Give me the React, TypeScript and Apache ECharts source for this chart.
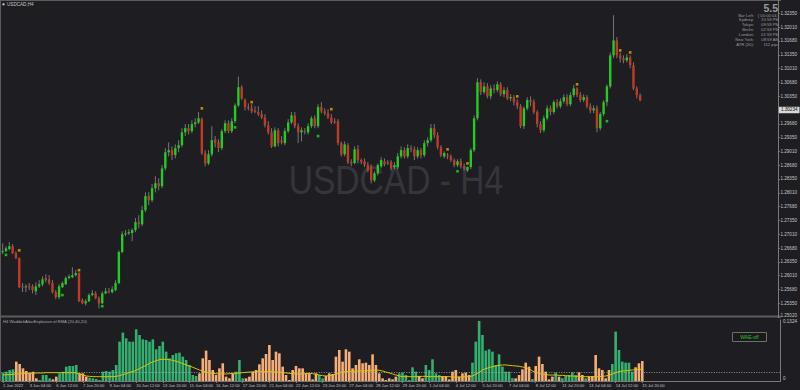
import React, { useEffect, useRef } from "react";
import * as echarts from "echarts";

// ---------- data ----------
const priceLabels = ["1.25020","1.25350","1.25680","1.26010","1.26350","1.26680","1.27010","1.27350","1.27680","1.28010","1.28350","1.28680","1.29010","1.29350","1.29680","1.30010","1.30350","1.30680","1.31010","1.31350","1.31680","1.32010","1.32350"];
const timeLabels = ["1 Jun 2022","3 Jun 04:00","6 Jun 12:00","7 Jun 20:00","9 Jun 04:00","10 Jun 12:00","13 Jun 20:00","15 Jun 04:00","16 Jun 12:00","17 Jun 20:00","21 Jun 04:00","22 Jun 12:00","23 Jun 20:00","27 Jun 04:00","28 Jun 12:00","29 Jun 20:00","1 Jul 04:00","4 Jul 12:00","5 Jul 20:00","7 Jul 04:00","8 Jul 12:00","11 Jul 20:00","13 Jul 04:00","14 Jul 12:00","15 Jul 20:00"];
const barsPerLabel = 8;
const slotCount = 234;

const open = [1.2657,1.2659,1.2664,1.2671,1.2654,1.2642,1.2574,1.2572,1.2574,1.2574,
 1.2562,1.2574,1.2579,1.2594,1.2591,1.2582,1.2560,1.2548,1.2572,1.2579,
 1.2594,1.2596,1.2601,1.2606,1.2541,1.2533,1.2538,1.2553,1.2557,1.2545,
 1.2533,1.2557,1.2562,1.2560,1.2565,1.2582,1.2657,1.2700,1.2702,1.2703,
 1.2710,1.2729,1.2724,1.2758,1.2792,1.2782,1.2811,1.2823,1.2816,1.2859,
 1.2898,1.2903,1.2891,1.2908,1.2915,1.2946,1.2956,1.2949,1.2966,1.2970,
 1.2978,1.2896,1.2871,1.2893,1.2929,1.2922,1.2908,1.2949,1.2968,1.2949,
 1.2973,1.3011,1.3055,1.3024,1.3007,1.3004,1.2999,1.2995,1.2990,1.2982,
 1.2963,1.2946,1.2912,1.2951,1.2926,1.2920,1.2949,1.2970,1.2987,1.2961,
 1.2946,1.2949,1.2946,1.2961,1.2980,1.2961,1.3007,1.2997,1.2992,1.2982,
 1.2973,1.2973,1.2920,1.2893,1.2915,1.2874,1.2872,1.2905,1.2879,1.2876,
 1.2867,1.2864,1.2830,1.2847,1.2864,1.2876,1.2874,1.2874,1.2862,1.2862,
 1.2888,1.2903,1.2888,1.2908,1.2905,1.2888,1.2903,1.2891,1.2920,1.2927,
 1.2956,1.2939,1.2910,1.2888,1.2891,1.2888,1.2879,1.2867,1.2876,1.2864,
 1.2854,1.2862,1.2903,1.2980,1.3067,1.3043,1.3057,1.3033,1.3052,1.3048,
 1.3062,1.3038,1.3048,1.3028,1.3031,1.3019,1.3009,1.2961,1.3004,1.3024,
 1.3019,1.2995,1.2966,1.2951,1.2980,1.3004,1.2995,1.3019,1.3009,1.3021,
 1.3031,1.3014,1.3036,1.3052,1.3036,1.3024,1.3031,1.3009,1.2999,1.3004,
 1.2956,1.2990,1.3019,1.3057,1.3132,1.3168,1.3132,1.3125,1.3120,1.3127,
 1.3108,1.3052,1.3036];

const high = [1.2678,1.2671,1.2681,1.2676,1.2659,1.2644,1.2582,1.2579,1.2582,1.2579,
 1.2584,1.2589,1.2598,1.2603,1.2601,1.2589,1.2565,1.2579,1.2586,1.2598,
 1.2603,1.2620,1.2613,1.2608,1.2545,1.2543,1.2557,1.2565,1.2562,1.2550,
 1.2562,1.2570,1.2570,1.2574,1.2589,1.2661,1.2707,1.2710,1.2712,1.2714,
 1.2739,1.2746,1.2768,1.2801,1.2801,1.2821,1.2840,1.2835,1.2867,1.2908,
 1.2922,1.2912,1.2917,1.2927,1.2956,1.2966,1.2966,1.2975,1.2980,1.2995,
 1.2982,1.2903,1.2903,1.2961,1.2937,1.2929,1.2954,1.2975,1.2975,1.2980,
 1.3016,1.3081,1.3060,1.3028,1.3016,1.3014,1.3009,1.3009,1.2999,1.2990,
 1.2973,1.2956,1.2958,1.2956,1.2937,1.2956,1.2978,1.2995,1.2995,1.2968,
 1.2958,1.2956,1.2968,1.2985,1.2987,1.3014,1.3019,1.3004,1.3002,1.2990,
 1.2980,1.2978,1.2924,1.2924,1.2920,1.2881,1.2912,1.2915,1.2883,1.2883,
 1.2874,1.2869,1.2852,1.2871,1.2886,1.2883,1.2879,1.2879,1.2874,1.2896,
 1.2912,1.2910,1.2917,1.2915,1.2912,1.2910,1.2908,1.2927,1.2934,1.2966,
 1.2966,1.2946,1.2915,1.2900,1.2896,1.2893,1.2883,1.2881,1.2883,1.2871,
 1.2864,1.2908,1.2987,1.3077,1.3074,1.3067,1.3065,1.3060,1.3062,1.3069,
 1.3067,1.3055,1.3055,1.3038,1.3036,1.3026,1.3014,1.3009,1.3031,1.3033,
 1.3026,1.2999,1.2973,1.2987,1.3011,1.3011,1.3024,1.3026,1.3028,1.3038,
 1.3038,1.3043,1.3060,1.3055,1.3043,1.3038,1.3036,1.3016,1.3011,1.3011,
 1.2995,1.3024,1.3062,1.3139,1.3229,1.3176,1.3139,1.3132,1.3135,1.3132,
 1.3115,1.3057,1.3040];

const low = [1.2652,1.2657,1.2661,1.2652,1.2640,1.2570,1.2560,1.2560,1.2565,1.2557,
 1.2553,1.2570,1.2574,1.2584,1.2577,1.2557,1.2543,1.2543,1.2570,1.2577,
 1.2591,1.2594,1.2598,1.2536,1.2531,1.2528,1.2536,1.2550,1.2543,1.2521,
 1.2531,1.2555,1.2557,1.2557,1.2562,1.2579,1.2654,1.2695,1.2698,1.2683,
 1.2705,1.2714,1.2719,1.2753,1.2770,1.2777,1.2801,1.2806,1.2811,1.2854,
 1.2888,1.2879,1.2883,1.2898,1.2910,1.2937,1.2941,1.2944,1.2958,1.2966,
 1.2891,1.2864,1.2867,1.2888,1.2910,1.2898,1.2903,1.2944,1.2944,1.2944,
 1.2968,1.3007,1.3024,1.2999,1.2999,1.2992,1.2992,1.2985,1.2978,1.2958,
 1.2941,1.2908,1.2910,1.2912,1.2917,1.2915,1.2944,1.2966,1.2956,1.2920,
 1.2924,1.2941,1.2941,1.2956,1.2956,1.2956,1.2992,1.2987,1.2978,1.2966,
 1.2966,1.2915,1.2888,1.2888,1.2869,1.2864,1.2869,1.2871,1.2869,1.2862,
 1.2850,1.2823,1.2826,1.2842,1.2859,1.2864,1.2867,1.2854,1.2857,1.2857,
 1.2883,1.2883,1.2883,1.2898,1.2879,1.2883,1.2883,1.2886,1.2912,1.2922,
 1.2932,1.2905,1.2886,1.2883,1.2881,1.2874,1.2862,1.2862,1.2859,1.2854,
 1.2850,1.2857,1.2898,1.2975,1.3036,1.3038,1.3028,1.3026,1.3040,1.3043,
 1.3033,1.3031,1.3024,1.3021,1.3011,1.3002,1.2956,1.2954,1.2999,1.3009,
 1.2990,1.2958,1.2944,1.2946,1.2975,1.2987,1.2990,1.3004,1.3004,1.3016,
 1.3009,1.3009,1.3031,1.3031,1.3019,1.3019,1.3004,1.2992,1.2992,1.2946,
 1.2951,1.2985,1.3009,1.3052,1.3125,1.3125,1.3115,1.3113,1.3115,1.3101,
 1.3048,1.3028,1.3021];

const close = [1.2659,1.2666,1.2671,1.2654,1.2642,1.2572,1.2572,1.2574,1.2573,1.2565,
 1.2574,1.2579,1.2591,1.2589,1.2582,1.2560,1.2548,1.2574,1.2582,1.2594,
 1.2598,1.2601,1.2606,1.2538,1.2533,1.2538,1.2553,1.2557,1.2545,1.2533,
 1.2557,1.2562,1.2561,1.2567,1.2582,1.2657,1.2700,1.2702,1.2705,1.2710,
 1.2729,1.2724,1.2758,1.2792,1.2782,1.2811,1.2823,1.2816,1.2859,1.2898,
 1.2903,1.2891,1.2908,1.2915,1.2946,1.2956,1.2949,1.2966,1.2970,1.2980,
 1.2896,1.2871,1.2893,1.2927,1.2920,1.2908,1.2949,1.2968,1.2949,1.2973,
 1.3011,1.3055,1.3028,1.3007,1.3004,1.2997,1.2995,1.2990,1.2982,1.2963,
 1.2946,1.2912,1.2951,1.2920,1.2922,1.2949,1.2970,1.2987,1.2961,1.2946,
 1.2951,1.2947,1.2961,1.2980,1.2961,1.3007,1.2997,1.2992,1.2982,1.2970,
 1.2970,1.2920,1.2893,1.2917,1.2874,1.2871,1.2905,1.2879,1.2875,1.2867,
 1.2854,1.2830,1.2847,1.2867,1.2879,1.2869,1.2871,1.2859,1.2867,1.2888,
 1.2903,1.2888,1.2908,1.2905,1.2888,1.2903,1.2891,1.2920,1.2927,1.2956,
 1.2939,1.2910,1.2891,1.2896,1.2888,1.2879,1.2867,1.2876,1.2864,1.2859,
 1.2862,1.2903,1.2980,1.3067,1.3043,1.3057,1.3033,1.3052,1.3048,1.3062,
 1.3038,1.3048,1.3028,1.3031,1.3019,1.3009,1.2961,1.3004,1.3024,1.3019,
 1.2995,1.2966,1.2951,1.2980,1.3004,1.2995,1.3019,1.3009,1.3021,1.3031,
 1.3014,1.3036,1.3052,1.3036,1.3024,1.3031,1.3009,1.2999,1.3004,1.2956,
 1.2990,1.3019,1.3057,1.3132,1.3168,1.3132,1.3125,1.3120,1.3127,1.3108,
 1.3052,1.3036,1.30234];

const lastPrice = 1.30234;

// signal marks [bar index, price]
const upMarks = [[5,1.2661],[23,1.2613],[60,1.3004],[75,1.3019],[99,1.3002],[134,1.2905],[140,1.2871],[155,1.3033],[173,1.3062],[186,1.3144],[189,1.3139]];
const downMarks = [[1,1.2650],[18,1.2553],[30,1.2526],[70,1.2958],[95,1.2937],[137,1.2852],[182,1.2973]];

// Waddah Attar Explosion: signed trend (positive = up / green, negative = down / orange)
const waeTrend = [0.0181,0.0203,0.0239,0.0253,-0.0420,-0.0369,-0.0275,-0.0217,-0.0181,-0.0203,
 -0.0058,0.0022,0.0130,0.0130,0.0058,-0.0036,-0.0094,0.0167,0.0203,0.0311,
 0.0326,0.0326,0.0348,-0.0167,-0.0167,-0.0094,0.0072,0.0058,0.0043,0.0022,
 0.0203,0.0217,0.0203,0.0239,0.0348,0.0854,0.1050,0.0927,0.0854,0.0854,
 0.1122,0.0999,0.0905,0.0891,0.0854,0.0905,0.0688,0.0760,0.0854,0.0637,
 0.0492,0.0565,0.0601,0.0615,0.0529,0.0456,0.0348,0.0130,0.0109,-0.0167,
 -0.0492,-0.0659,-0.0456,-0.0239,-0.0130,-0.0275,-0.0384,-0.0094,-0.0058,-0.0167,
 0.0203,0.0456,0.0058,-0.0058,-0.0094,-0.0203,-0.0239,-0.0362,-0.0492,-0.0586,
 -0.0782,-0.0456,-0.0637,-0.0601,-0.0311,-0.0130,-0.0022,-0.0239,-0.0326,-0.0275,
 -0.0275,-0.0167,-0.0167,-0.0036,-0.0167,0.0130,0.0058,-0.0109,-0.0167,-0.0152,
 -0.0529,-0.0673,-0.0420,-0.0688,-0.0637,-0.0275,-0.0348,-0.0471,-0.0384,-0.0398,
 -0.0348,-0.0579,-0.0348,-0.0167,-0.0058,-0.0022,-0.0058,-0.0036,-0.0094,0.0167,
 0.0181,0.0130,0.0022,0.0297,0.0203,-0.0109,-0.0058,0.0348,0.0239,0.0471,
 0.0167,0.0130,-0.0109,-0.0109,-0.0036,-0.0203,-0.0239,-0.0094,-0.0167,-0.0181,
 -0.0130,0.0398,0.0854,0.1303,0.0999,0.0659,0.0688,0.0637,0.0348,0.0579,
 0.0311,0.0203,0.0203,0.0058,-0.0058,-0.0130,-0.0253,-0.0398,-0.0311,0.0043,
 -0.0326,-0.0529,-0.0369,-0.0203,-0.0036,-0.0094,0.0181,-0.0094,0.0058,0.0109,
 0.0130,0.0188,0.0130,-0.0188,-0.0130,0.0058,-0.0094,-0.0109,-0.0565,-0.0275,
 -0.0239,-0.0058,-0.0239,0.0369,0.1072,0.0673,0.0420,0.0398,0.0398,0.0203,
 -0.0297,-0.0384,-0.0434];

const waeExplosion = [0.0130,0.0138,0.0138,0.0145,0.0152,0.0159,0.0159,0.0167,0.0167,0.0167,
 0.0174,0.0174,0.0174,0.0181,0.0181,0.0181,0.0181,0.0181,0.0181,0.0181,
 0.0181,0.0181,0.0174,0.0152,0.0130,0.0109,0.0101,0.0094,0.0094,0.0094,
 0.0094,0.0094,0.0094,0.0094,0.0101,0.0116,0.0138,0.0159,0.0188,0.0203,
 0.0232,0.0268,0.0304,0.0340,0.0384,0.0413,0.0442,0.0463,0.0471,0.0471,
 0.0463,0.0449,0.0427,0.0405,0.0376,0.0348,0.0326,0.0297,0.0268,0.0239,
 0.0217,0.0195,0.0181,0.0167,0.0159,0.0152,0.0152,0.0152,0.0159,0.0167,
 0.0167,0.0174,0.0181,0.0188,0.0195,0.0195,0.0203,0.0203,0.0203,0.0203,
 0.0203,0.0203,0.0195,0.0188,0.0181,0.0174,0.0167,0.0159,0.0152,0.0152,
 0.0152,0.0159,0.0167,0.0159,0.0145,0.0130,0.0116,0.0109,0.0116,0.0130,
 0.0152,0.0174,0.0195,0.0203,0.0210,0.0210,0.0217,0.0217,0.0217,0.0224,
 0.0224,0.0232,0.0239,0.0232,0.0217,0.0195,0.0174,0.0152,0.0130,0.0109,
 0.0094,0.0094,0.0094,0.0094,0.0094,0.0101,0.0101,0.0101,0.0094,0.0094,
 0.0094,0.0094,0.0094,0.0094,0.0094,0.0087,0.0087,0.0087,0.0087,0.0094,
 0.0094,0.0109,0.0145,0.0188,0.0239,0.0268,0.0290,0.0311,0.0326,0.0340,
 0.0348,0.0348,0.0340,0.0333,0.0326,0.0319,0.0304,0.0290,0.0268,0.0217,
 0.0188,0.0167,0.0152,0.0138,0.0130,0.0130,0.0130,0.0123,0.0123,0.0116,
 0.0109,0.0109,0.0101,0.0101,0.0094,0.0094,0.0094,0.0094,0.0094,0.0094,
 0.0101,0.0109,0.0123,0.0152,0.0181,0.0203,0.0217,0.0224,0.0232,0.0239,
 0.0246,0.0253,0.0253];

const waeDeadZone = 0.0165;
const waeAxisMax = 0.1324;

const infoLabels = ["Bar Left:", "Sydney:", "Tokyo:", "Berlin:", "London:", "New York:", "ATR (20):"];
const infoValues = ["[ 00:00:04 ]", "10:59 PM", "09:59 PM", "02:59 PM", "01:59 PM", "08:59 AM", "112 pips"];

// ---------- style ----------
const BG = "#1e1e22";
const UP = "#22cc22";
const DOWN = "#c23a26";
const WICK = "#808080";
const AXIS = "#7a7a7a";
const TXT = "#c4c4c4";
const FONT = "'Liberation Sans', Arial, sans-serif";
const FS = 4.6;
const FSX = 4.1;

export default function App() {
  const ref = useRef<HTMLDivElement>(null);
  useEffect(() => {
    document.body.style.margin = "0";
    document.body.style.background = BG;
    const chart = echarts.init(ref.current as HTMLDivElement, null, { renderer: "svg" });

    const slots = Array.from({ length: slotCount }, (_, i) => String(i));
    const labelAt: Record<number, string> = {};
    timeLabels.forEach((t, k) => {
      labelAt[k === 0 ? 0 : k * barsPerLabel] = t;
    });
    const showLabel = (index: number) => labelAt[index] !== undefined;

    const candleData = open.map((o, i) => [i, o, close[i], low[i], high[i]]);
    const upBars = waeTrend.map((v) => (v > 0 ? v : null));
    const downBars = waeTrend.map((v) => (v < 0 ? -v : null));

    const renderCandle = (params: any, api: any) => {
      const x = api.value(0);
      const o = api.value(1);
      const c = api.value(2);
      const l = api.value(3);
      const h = api.value(4);
      const po = api.coord([x, o]);
      const pc = api.coord([x, c]);
      const pl = api.coord([x, l]);
      const ph = api.coord([x, h]);
      const w = 2.4;
      const top = Math.min(po[1], pc[1]);
      const bh = Math.max(1, Math.abs(po[1] - pc[1]));
      return {
        type: "group",
        children: [
          { type: "line", shape: { x1: ph[0], y1: ph[1], x2: pl[0], y2: pl[1] }, style: { stroke: WICK, lineWidth: 0.9 } },
          { type: "rect", shape: { x: po[0] - w / 2, y: top, width: w, height: bh }, style: { fill: c >= o ? UP : DOWN } },
        ],
      };
    };

    const infoGraphics: any[] = [];
    infoLabels.forEach((lab, k) => {
      const y = 15 + k * 4.85;
      infoGraphics.push({ type: "text", x: 754, y, style: { text: lab, fill: "#9a9a9a", fontSize: 4.2, fontFamily: FONT, align: "right", verticalAlign: "middle" } });
      infoGraphics.push({ type: "text", x: 779, y, style: { text: infoValues[k], fill: "#9a9a9a", fontSize: 4.2, fontFamily: FONT, align: "right", verticalAlign: "middle" } });
    });

    const option: any = {
      animation: false,
      backgroundColor: BG,
      textStyle: { fontFamily: FONT },
      grid: [
        { left: 1, right: 19, top: 0, height: 317 },
        { left: 1, right: 19, top: 320, height: 61 },
      ],
      xAxis: [
        { type: "category", gridIndex: 0, data: slots, boundaryGap: true, axisLine: { show: false }, axisTick: { show: false }, axisLabel: { show: false }, splitLine: { show: false } },
        {
          type: "category", gridIndex: 1, data: slots, boundaryGap: true,
          axisLine: { show: true, lineStyle: { color: AXIS, width: 1 } },
          axisTick: { show: true, alignWithLabel: true, interval: (i: number) => showLabel(i), length: 2, lineStyle: { color: AXIS } },
          axisLabel: { show: true, interval: (i: number) => showLabel(i), formatter: (_v: string, i: number) => labelAt[i] ?? "", color: TXT, fontSize: FSX, fontFamily: FONT, align: "left", margin: 2.5 },
          splitLine: { show: false },
        },
      ],
      yAxis: [
        {
          type: "value", gridIndex: 0, position: "right", min: 1.25, max: 1.32657, interval: 1 / 300,
          axisLine: { show: true, lineStyle: { color: AXIS } },
          axisTick: { show: true, length: 2, lineStyle: { color: AXIS } },
          axisLabel: {
            color: TXT, fontSize: FS, fontFamily: FONT, margin: 2.5, showMaxLabel: false,
            formatter: (v: number) => {
              const k = Math.round((v - 1.25) * 300);
              return k === 0 ? "{b|" + priceLabels[0] + "}" : priceLabels[k] ?? "";
            },
            rich: { b: { color: TXT, fontSize: FS, fontFamily: FONT, padding: [0, 0, 3, 0] } },
          },
          splitLine: { show: false },
        },
        {
          type: "value", gridIndex: 1, position: "right", min: 0, max: waeAxisMax, interval: waeAxisMax,
          axisLine: { show: true, lineStyle: { color: AXIS } },
          axisTick: { show: false },
          axisLabel: {
            color: TXT, fontSize: FS, fontFamily: FONT, margin: 2.5,
            formatter: (v: number) => (v === 0 ? "{z|0}" : "{m|" + String(waeAxisMax) + "}"),
            rich: {
              z: { color: TXT, fontSize: FS, fontFamily: FONT, padding: [0, 0, 5, 0] },
              m: { color: TXT, fontSize: FS, fontFamily: FONT, padding: [3, 0, 0, 0] },
            },
          },
          splitLine: { show: false },
        },
      ],
      series: [
        {
          type: "custom", name: "USDCAD", xAxisIndex: 0, yAxisIndex: 0,
          renderItem: renderCandle, data: candleData, encode: { x: 0, y: [1, 2, 3, 4] }, z: 3,
        },
        {
          type: "scatter", name: "sell marks", xAxisIndex: 0, yAxisIndex: 0, data: upMarks,
          symbol: "rect", symbolSize: 2.6, itemStyle: { color: "#f5a000" }, z: 4,
          markLine: {
            silent: true, symbol: "none",
            lineStyle: { color: "rgba(0,0,0,0)", width: 1 },
            label: { show: true, position: "end", formatter: lastPrice.toFixed(5), color: "#111111", backgroundColor: "#d8d8d8", fontSize: FS, fontFamily: FONT, padding: [1, 2, 0.5, 2], distance: 1 },
            data: [{ yAxis: lastPrice }],
          },
        },
        {
          type: "scatter", name: "buy marks", xAxisIndex: 0, yAxisIndex: 0, data: downMarks,
          symbol: "rect", symbolSize: 2.6, itemStyle: { color: "#18e018" }, z: 4,
        },
        {
          type: "bar", name: "trend up", xAxisIndex: 1, yAxisIndex: 1, data: upBars,
          barWidth: 2.6, barGap: "-100%", itemStyle: { color: "#33b070" },
        },
        {
          type: "bar", name: "trend down", xAxisIndex: 1, yAxisIndex: 1, data: downBars,
          barWidth: 2.6, barGap: "-100%", itemStyle: { color: "#f6ae78" },
        },
        {
          type: "line", name: "explosion", xAxisIndex: 1, yAxisIndex: 1, data: waeExplosion,
          symbol: "none", lineStyle: { color: "#dcc300", width: 1 }, z: 5,
          markLine: {
            silent: true, symbol: "none", label: { show: false },
            lineStyle: { color: "#b0b0b0", type: [1, 1.5], width: 0.8 },
            data: [{ yAxis: waeDeadZone }],
          },
        },
      ],
      graphic: [
        { type: "text", x: 396, y: 180, scaleX: 0.84, z: 0, style: { text: "USDCAD - H4", fill: "#35353b", fontSize: 40, fontFamily: FONT, align: "center", verticalAlign: "middle" } },
        { type: "line", shape: { x1: 0.5, y1: 0, x2: 0.5, y2: 381 }, style: { stroke: "#5c5c5c", lineWidth: 1 } },
        { type: "line", shape: { x1: 0, y1: 0.5, x2: 781, y2: 0.5 }, style: { stroke: "#5c5c5c", lineWidth: 1 } },
        { type: "rect", shape: { x: 0, y: 315.5, width: 781, height: 2 }, style: { fill: "#5c5c5c" } },
        { type: "rect", shape: { x: 2.5, y: 3.3, width: 2, height: 2 }, style: { fill: "#d0d0d0" } },
        { type: "text", x: 7, y: 4.5, style: { text: "USDCAD,H4", fill: TXT, fontSize: FS, fontFamily: FONT, verticalAlign: "middle" } },
        { type: "text", x: 3, y: 321.5, style: { text: "H4 WaddahAttarExplosion of EMA (20,40,20)", fill: "#a8a8a8", fontSize: 4.2, fontFamily: FONT, verticalAlign: "middle" } },
        { type: "rect", shape: { x: 732.5, y: 332.5, width: 34, height: 9 }, style: { fill: "#1a1a1a", stroke: "#6e6e6e", lineWidth: 1 } },
        { type: "text", x: 749.5, y: 337, style: { text: "WAE-off", fill: "#26c426", fontSize: 5, fontFamily: FONT, align: "center", verticalAlign: "middle" } },
        { type: "text", x: 778, y: 8, style: { text: "5.5", fill: "#9a9a9a", fontSize: 10.5, fontWeight: "bold", fontFamily: FONT, align: "right", verticalAlign: "middle" } },
        ...infoGraphics,
      ],
    };

    chart.setOption(option);
    return () => chart.dispose();
  }, []);
  return <div ref={ref} style={{ width: 800, height: 390 }} />;
}
